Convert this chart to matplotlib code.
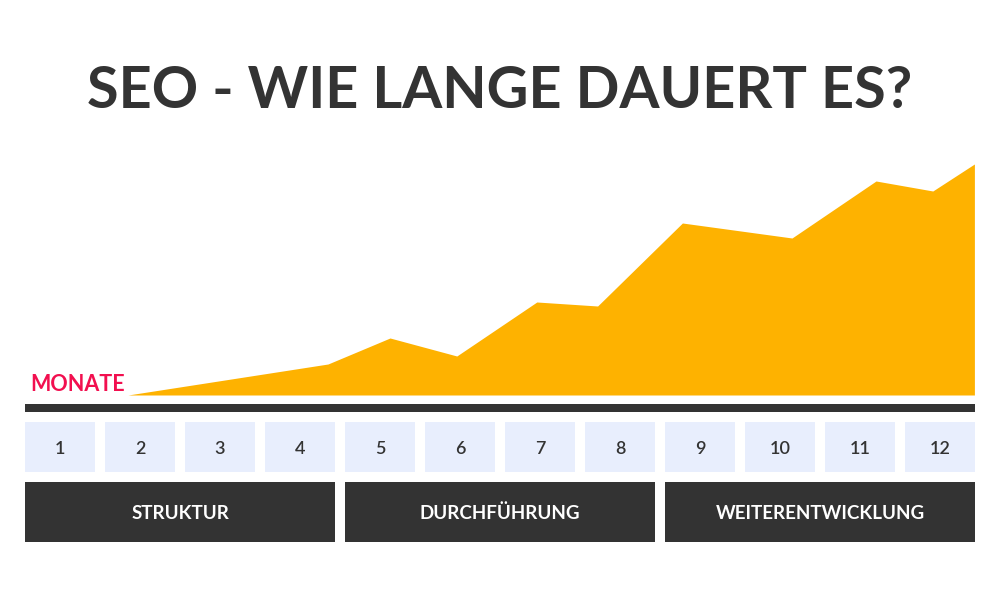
import numpy as np
import matplotlib
matplotlib.use("Agg")
from matplotlib import pyplot as plt
from matplotlib.patches import Rectangle

# Daten
monate = [1, 2, 3, 4, 5, 6, 7, 8, 9, 10, 11, 12]
phasen = ["STRUKTUR", "DURCHFÜHRUNG", "WEITERENTWICKLUNG"]
phasen_start = [1, 5, 9]
phasen_ende = [4, 8, 12]
# Verlauf (x in Monaten, y = Sichtbarkeit)
verlauf_x = [1.85, 4.35, 5.125, 5.96, 6.96, 7.72, 8.78, 10.15, 11.2, 11.91, 12.43]
verlauf_y = [0, 31, 57, 39, 93, 89, 172, 157, 214, 204, 231]

ORANGE = "#FEB200"
DUNKEL = "#333333"
HELL = "#E8EEFD"
ROT = "#F20F4F"
plt.rcParams["font.family"] = ["Lato", "DejaVu Sans"]

fig = plt.figure(figsize=(10, 6), dpi=100)
ax = fig.add_axes([0, 0, 1, 1])
ax.set_xlim(0.25, 12.75)
ax.set_ylim(-205, 395)
ax.axis("off")

# Flaeche
ax.fill_between(verlauf_x, verlauf_y, 0, color=ORANGE, linewidth=0)
ax.fill_between([verlauf_x[-1], verlauf_x[-1] + 0.0001], [verlauf_y[-1], 0], 0, color=ORANGE, linewidth=0)

# Zeitachse
halb = 0.4375
ax.add_patch(Rectangle((monate[0] - halb, -16.7), monate[-1] - monate[0] + 2 * halb, 7.7,
                       color=DUNKEL, linewidth=0))

# Monatskaesten
for m in monate:
    ax.add_patch(Rectangle((m - halb, -76.7), 2 * halb, 50, color=HELL, linewidth=0))
    ax.text(m, -52.5, str(m), ha="center", va="center_baseline", fontsize=13,
            color=DUNKEL, fontweight="semibold")

# Phasen
for name, a, e in zip(phasen, phasen_start, phasen_ende):
    ax.add_patch(Rectangle((a - halb, -146.7), e - a + 2 * halb, 60, color=DUNKEL, linewidth=0))
    ax.text((a + e) / 2, -117, name, ha="center", va="center_baseline", fontsize=13.5,
            color="white", fontweight="bold")

ax.text(0.625, 4, "MONATE", ha="left", va="baseline", fontsize=15.5, color=ROT,
        fontweight="bold")
ax.text(6.5, 308, "SEO - WIE LANGE DAUERT ES?", ha="center", va="center_baseline",
        fontsize=41.5, color=DUNKEL, fontweight="bold")

fig.savefig("out.png", dpi=100, facecolor="white")
